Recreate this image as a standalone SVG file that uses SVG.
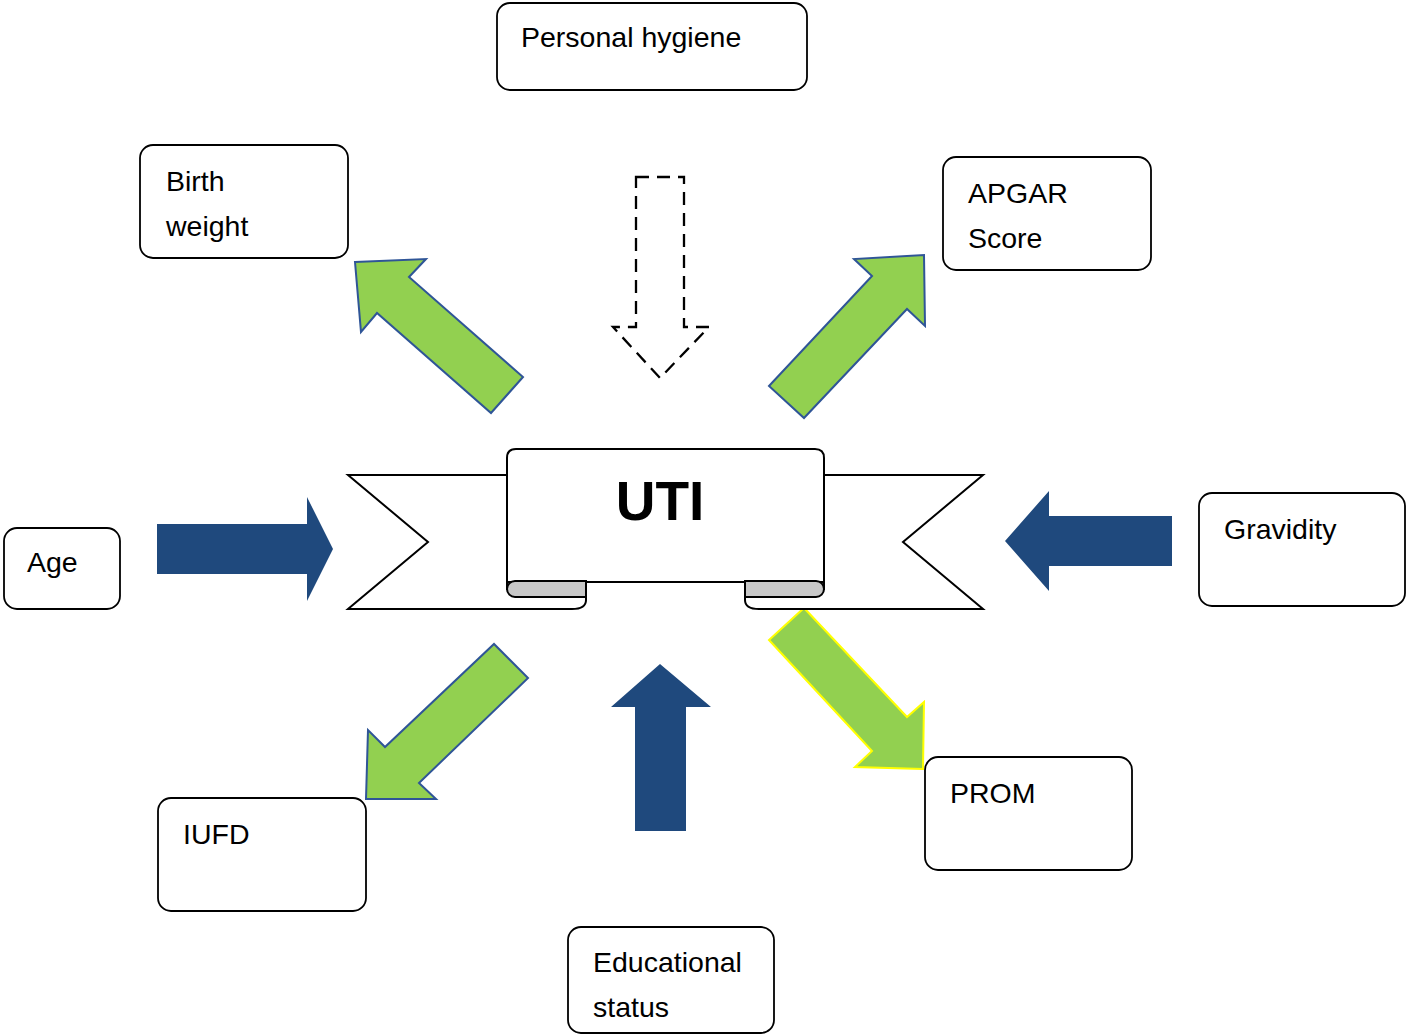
<svg xmlns="http://www.w3.org/2000/svg" width="1406" height="1034" viewBox="0 0 1406 1034">
<style>
.box{fill:#fff;stroke:#000;stroke-width:1.8}
.lbl{font-family:"Liberation Sans",Arial,sans-serif;font-size:28.5px;fill:#000}
.green{fill:#92D050;stroke:#2F5597;stroke-width:2;stroke-linejoin:miter}
.greenY{fill:#92D050;stroke:#FFFF00;stroke-width:2}
.blue{fill:#1F497D}
.rib{fill:#fff;stroke:#000;stroke-width:2;stroke-linejoin:miter}
.curl{fill:#C8C8C8;stroke:#000;stroke-width:2}
</style>
<rect width="1406" height="1034" fill="#fff"/>

<g id="connectors">
  <path class="green" d="M355,262 L426,259 L409,277 L523,377 L491,413 L377,313 L361,332 Z"/>
  <path class="green" d="M924,255 L925,326 L907,309 L804,418 L769,386 L872,276 L854,259 Z"/>
  <path class="green" d="M366,799 L368,730 L385,747 L494,644 L528,678 L419,783 L436,799 Z"/>
  <path class="greenY" d="M923,769 L855,767 L872,751 L769,640 L804,608 L907,717 L924,702 Z"/>
  <path fill="none" stroke="#000" stroke-width="2.3" stroke-dasharray="13,8" d="M636,177 L684,177 L684,327 L709,327 L660,378 L613,327 L636,327 Z"/>
  <path class="blue" d="M157,524 L307,524 L307,497 L333,549 L307,601 L307,574 L157,574 Z"/>
  <path class="blue" d="M1172,516 L1049,516 L1049,491 L1005,541 L1049,591 L1049,566 L1172,566 Z"/>
  <path class="blue" d="M686,831 L686,707 L711,707 L660,664 L611,707 L635,707 L635,831 Z"/>
</g>

<g id="uti">
  <path class="rib" d="M507,475 H348 L428,542 L348,609 H572 Q586,609 586,600 V582"/>
  <path class="rib" d="M824,475 H983 L903,542 L983,609 H759 Q745,609 745,600 V582"/>
  <path class="rib" d="M507,590 V458 Q507,449 516,449 H815 Q824,449 824,458 V590"/>
  <path class="rib" d="M507,582 H824" fill="none"/>
  <path class="curl" d="M586,581 H515 A8,8 0 0 0 515,597 H586 Z"/>
  <path class="curl" d="M745,581 H816 A8,8 0 0 1 816,597 H745 Z"/>
  <text x="660" y="520" text-anchor="middle" font-family="'Liberation Sans',Arial,sans-serif" font-weight="bold" font-size="55">UTI</text>
</g>

<g id="personal-hygiene">
  <rect class="box" x="497" y="3" width="310" height="87" rx="13"/>
  <text class="lbl" x="521" y="47">Personal hygiene</text>
</g>
<g id="birth-weight">
  <rect class="box" x="140" y="145" width="208" height="113" rx="13"/>
  <text class="lbl" x="166" y="191">Birth</text>
  <text class="lbl" x="166" y="236">weight</text>
</g>
<g id="apgar">
  <rect class="box" x="943" y="157" width="208" height="113" rx="13"/>
  <text class="lbl" x="968" y="203">APGAR</text>
  <text class="lbl" x="968" y="248">Score</text>
</g>
<g id="age">
  <rect class="box" x="4" y="528" width="116" height="81" rx="13"/>
  <text class="lbl" x="27" y="572">Age</text>
</g>
<g id="gravidity">
  <rect class="box" x="1199" y="493" width="206" height="113" rx="13"/>
  <text class="lbl" x="1224" y="539">Gravidity</text>
</g>
<g id="iufd">
  <rect class="box" x="158" y="798" width="208" height="113" rx="13"/>
  <text class="lbl" x="183" y="844">IUFD</text>
</g>
<g id="prom">
  <rect class="box" x="925" y="757" width="207" height="113" rx="13"/>
  <text class="lbl" x="950" y="803">PROM</text>
</g>
<g id="educational-status">
  <rect class="box" x="568" y="927" width="206" height="106" rx="13"/>
  <text class="lbl" x="593" y="972">Educational</text>
  <text class="lbl" x="593" y="1017">status</text>
</g>
</svg>
